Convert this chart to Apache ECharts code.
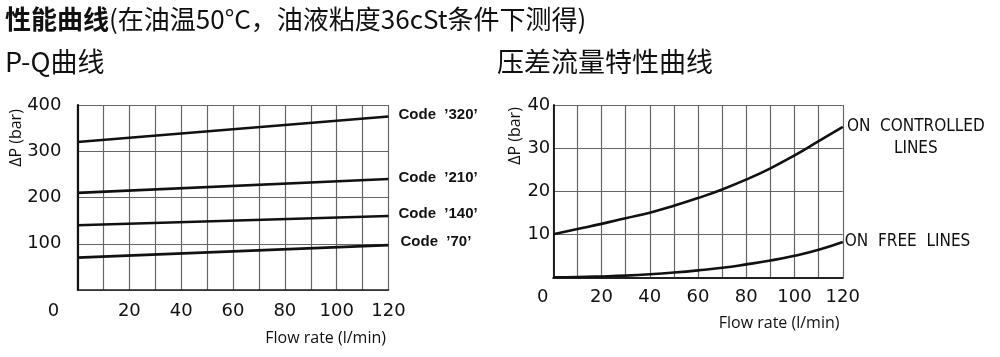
<!DOCTYPE html>
<html>
<head>
<meta charset="utf-8">
<script src="https://cdn.jsdelivr.net/npm/echarts@6/dist/echarts.min.js"></script>
<style>
html,body{margin:0;padding:0;background:#fff;}
#c{width:1000px;height:357px;}
</style>
</head>
<body>
<div id="c"></div>
<script>
// ---- data ----
const pqFlow = [0, 120];
const code320 = [320, 375];
const code210 = [210, 240];
const code140 = [140, 160];
const code70 = [70, 97];
const pqLabels = ["Code  \u2019320\u2019", "Code  \u2019210\u2019", "Code  \u2019140\u2019", "Code  \u201970\u2019"];

const dpFlow = [0, 10, 20, 30, 40, 50, 60, 70, 80, 90, 100, 110, 120];
const controlledLines = [10, 11.2, 12.4, 13.7, 15.0, 16.6, 18.4, 20.4, 22.7, 25.3, 28.3, 31.6, 34.9];
const freeLines = [0, 0.05, 0.2, 0.4, 0.7, 1.1, 1.6, 2.2, 3.0, 3.9, 5.0, 6.4, 8.2];

const xTicks = [0, 20, 40, 60, 80, 100, 120];
const pqYTicks = [0, 100, 200, 300, 400];
const dpYTicks = [0, 10, 20, 30, 40];

const titleMain = "性能曲线";
const titleNote = "(在油温50°C，油液粘度36cSt条件下测得)";
const titleLeft = "P-Q曲线";
const titleRight = "压差流量特性曲线";
const xName = "Flow rate (l/min)";
const yName = "ΔP (bar)";

// ---- chart ----
const chart = echarts.init(document.getElementById('c'), null, {renderer: 'canvas'});
const tickFont = "DejaVu Sans";
const gridColor = '#666';

function pairs(xs, ys) { return xs.map((x, i) => [x, ys[i]]); }

function xAxisDef(gridIndex, shift) {
  return {
    type: 'value', gridIndex: gridIndex, min: 0, max: 120, interval: 10,
    axisLine: {show: true, onZero: false, lineStyle: {color: '#222', width: gridIndex === 0 ? 1.5 : 2.2}},
    axisTick: {show: false},
    splitLine: {show: true, lineStyle: {color: gridColor, width: 1.2}},
    axisLabel: {
      margin: gridIndex === 0 ? 12 : 11, fontSize: 18, fontFamily: tickFont, color: '#111',
      formatter: v => v === 0 ? '{o|0}' : (xTicks.indexOf(v) >= 0 ? String(v) : ''),
      rich: {o: {fontSize: 18, fontFamily: tickFont, color: '#111', padding: [0, shift * 2, 0, 0]}}
    }
  };
}

function yAxisDef(gridIndex, max, interval, ticks, margin) {
  return {
    type: 'value', gridIndex: gridIndex, min: 0, max: max, interval: interval,
    axisLine: {show: true, lineStyle: {color: '#111', width: gridIndex === 0 ? 2.2 : 1.8}},
    axisTick: {show: false},
    splitLine: {show: true, lineStyle: {color: gridColor, width: 1.2}},
    axisLabel: {
      margin: margin, fontSize: 18, fontFamily: tickFont, color: '#111', showMinLabel: false,
      formatter: v => (v !== 0 && ticks.indexOf(v) >= 0) ? String(v) : ''
    }
  };
}

const lineStyle = {color: '#111', width: 2.6};
function pqSeries(vals, label, offset) {
  return {
    type: 'line', xAxisIndex: 0, yAxisIndex: 0, data: pairs(pqFlow, vals),
    showSymbol: false, symbol: 'none', lineStyle: lineStyle, silent: true,
    endLabel: {show: true, formatter: label, distance: 10, offset: offset,
      fontFamily: 'Liberation Sans', fontWeight: 'bold', fontSize: 15, color: '#111'}
  };
}

function textEl(x, y, text, align, rot) {
  return {type: 'text', x: x, y: y, rotation: rot || 0, silent: true,
    style: {text: text, fontFamily: 'Open Sans', fontSize: 16, fill: '#111', align: align, verticalAlign: 'middle'}};
}

const option = {
  backgroundColor: '#fff',
  animation: false,
  title: [
    {text: '{b|' + titleMain + '}{n|' + titleNote + '}', left: 5, top: 6, padding: 0,
     textStyle: {rich: {
       b: {fontFamily: 'Noto Sans CJK SC', fontSize: 26, fontWeight: 'bold', color: '#111'},
       n: {fontFamily: 'Noto Sans CJK SC', fontSize: 26, fontWeight: 'normal', color: '#111'}
     }}},
    {text: titleLeft, left: 5, top: 48.5, padding: 0,
     textStyle: {fontFamily: 'Noto Sans CJK SC', fontSize: 27, fontWeight: 'normal', color: '#111'}},
    {text: titleRight, left: 497, top: 48.5, padding: 0,
     textStyle: {fontFamily: 'Noto Sans CJK SC', fontSize: 27, fontWeight: 'normal', color: '#111'}}
  ],
  grid: [
    {left: 77.5, top: 105, width: 311, height: 185, containLabel: false},
    {left: 553.3, top: 105, width: 289.5, height: 172.3, containLabel: false}
  ],
  xAxis: [xAxisDef(0, 24), xAxisDef(1, 10.5)],
  yAxis: [yAxisDef(0, 400, 100, pqYTicks, 16), yAxisDef(1, 40, 10, dpYTicks, 3)],
  graphic: [
    textEl(16, 138, yName, 'center', Math.PI / 2),
    textEl(515, 136, yName, 'center', Math.PI / 2),
    textEl(386, 338, xName, 'right'),
    textEl(839.5, 323, xName, 'right')
  ],
  series: [
    pqSeries(code320, pqLabels[0], [0, -2]),
    pqSeries(code210, pqLabels[1], [0, -1]),
    pqSeries(code140, pqLabels[2], [0, -2]),
    pqSeries(code70, pqLabels[3], [2, -3]),
    {
      type: 'line', xAxisIndex: 1, yAxisIndex: 1, data: pairs(dpFlow, controlledLines),
      smooth: 0.5,
      showSymbol: false, symbol: 'none', lineStyle: lineStyle, silent: true,
      endLabel: {show: true, distance: 4, offset: [0, 11],
        formatter: '{a|ON  CONTROLLED}\n{a|LINES}',
        rich: {a: {fontFamily: 'DejaVu Sans Condensed', fontSize: 17, color: '#111', width: 138, align: 'center', lineHeight: 22}}}
    },
    {
      type: 'line', xAxisIndex: 1, yAxisIndex: 1, data: pairs(dpFlow, freeLines),
      smooth: 0.5,
      showSymbol: false, symbol: 'none', lineStyle: lineStyle, silent: true,
      endLabel: {show: true, distance: 2, offset: [0, 0], formatter: 'ON  FREE  LINES',
        fontFamily: 'DejaVu Sans Condensed', fontSize: 17, color: '#111'}
    }
  ]
};
chart.setOption(option);
</script>
</body>
</html>
